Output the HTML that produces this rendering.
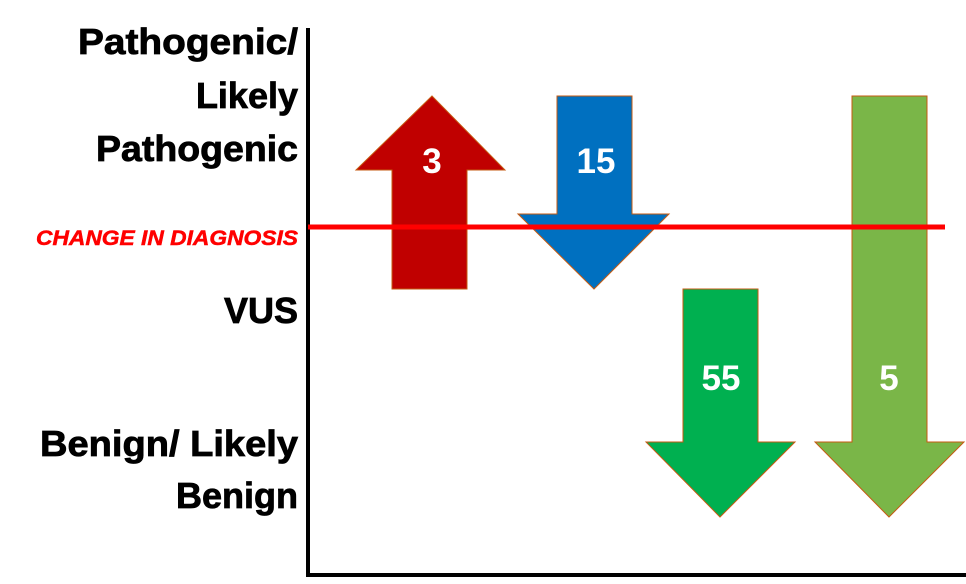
<!DOCTYPE html>
<html><head><meta charset="utf-8"><style>html,body{margin:0;padding:0;background:#fff}</style></head>
<body>
<svg width="966" height="579" viewBox="0 0 966 579" xmlns="http://www.w3.org/2000/svg">
<g font-family="Liberation Sans, sans-serif" font-weight="bold" font-size="36" text-anchor="end" fill="#000" stroke="#000" stroke-width="0.8">
<text x="298" y="54" textLength="220" lengthAdjust="spacingAndGlyphs">Pathogenic/</text>
<text x="298" y="108">Likely</text>
<text x="298" y="161" textLength="202" lengthAdjust="spacingAndGlyphs">Pathogenic</text>
<text x="298" y="323">VUS</text>
<text x="298" y="456" textLength="258" lengthAdjust="spacingAndGlyphs">Benign/ Likely</text>
<text x="298" y="508">Benign</text>
<text x="298" y="245" font-size="21" font-style="italic" fill="#ff0000" stroke="#ff0000" stroke-width="0.5" textLength="262" lengthAdjust="spacingAndGlyphs">CHANGE IN DIAGNOSIS</text>
</g>
<line x1="308" y1="28" x2="308" y2="576" stroke="#000" stroke-width="4"/>
<line x1="306" y1="575" x2="966" y2="575" stroke="#000" stroke-width="4"/>
<polygon points="432,96 505,170 467,170 467,289 392,289 392,170 356,170" fill="#c00000" stroke="#c55a11" stroke-width="1"/>
<polygon points="557,96 632,96 632,214 669,214 594,289 518,214 557,214" fill="#0070c0" stroke="#c55a11" stroke-width="1"/>
<polygon points="683,289 758,289 758,442 795,442 720,517 646,442 683,442" fill="#00b050" stroke="#c55a11" stroke-width="1"/>
<polygon points="852,96 927,96 927,442 964,442 889,517 815,442 852,442" fill="#7ab648" stroke="#c55a11" stroke-width="1"/>
<line x1="308" y1="227" x2="945" y2="227" stroke="#ff0000" stroke-width="5"/>
<g font-family="Liberation Sans, sans-serif" font-weight="bold" font-size="35" text-anchor="middle" fill="#fff">
<text x="432" y="173">3</text>
<text x="596" y="173">15</text>
<text x="721" y="390">55</text>
<text x="889" y="390">5</text>
</g>
</svg>
</body></html>
